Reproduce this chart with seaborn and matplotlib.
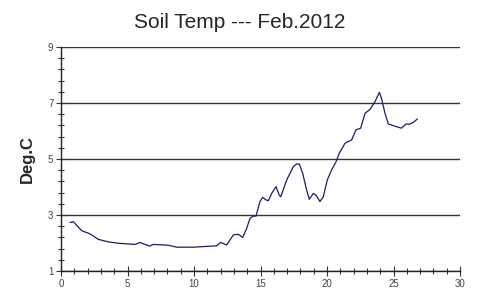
import matplotlib
matplotlib.use("Agg")
import matplotlib.pyplot as plt
from matplotlib.ticker import MultipleLocator, FixedLocator
import seaborn as sns
import pandas as pd

day = [0.68, 0.93, 1.55, 2.05, 2.3, 2.8, 3.56, 4.31, 5.56, 5.94, 6.32, 6.69, 6.94, 8.07,
       8.7, 9.95, 11.0, 11.7, 12.0, 12.46, 12.96, 13.33, 13.66, 13.96, 14.21, 14.46, 14.66,
       14.96, 15.16, 15.41, 15.59, 15.84, 16.17, 16.41, 16.52, 16.97, 17.47, 17.72, 17.92,
       18.17, 18.47, 18.67, 18.97, 19.17, 19.47, 19.72, 20.02, 20.35, 20.68, 20.92, 21.35,
       21.85, 22.18, 22.53, 22.86, 23.23, 23.61, 23.94, 24.1, 24.36, 24.61, 24.98, 25.6,
       25.94, 26.2, 26.5, 26.8]
temp = [2.73, 2.76, 2.44, 2.35, 2.29, 2.13, 2.04, 1.99, 1.95, 2.02, 1.95, 1.89, 1.95, 1.92,
        1.85, 1.85, 1.88, 1.90, 2.02, 1.93, 2.29, 2.31, 2.20, 2.52, 2.88, 2.96, 2.96,
        3.48, 3.63, 3.54, 3.51, 3.77, 4.01, 3.71, 3.65, 4.25, 4.73, 4.82, 4.82,
        4.49, 3.89, 3.56, 3.77, 3.71, 3.48, 3.65, 4.25, 4.61, 4.90, 5.20, 5.56,
        5.68, 6.04, 6.10, 6.63, 6.77, 7.05, 7.38, 7.16, 6.63, 6.25, 6.19, 6.10,
        6.25, 6.24, 6.31, 6.43]

df = pd.DataFrame({"day": day, "temp": temp})

sns.set_style("ticks")
plt.rcParams['font.family'] = ['Liberation Sans', 'DejaVu Sans']

fig = plt.figure(figsize=(5, 3.05), dpi=100)
ax = fig.add_axes([0.122, 0.1115, 0.798, 0.7345])
sns.lineplot(data=df, x="day", y="temp", ax=ax, color="#1c1c6e", linewidth=0.9)

ax.set_xlim(0, 30)
ax.set_ylim(1, 9)
ax.xaxis.set_major_locator(MultipleLocator(5))
ax.xaxis.set_minor_locator(MultipleLocator(1))
ax.yaxis.set_major_locator(FixedLocator([1, 3, 5, 7, 9]))
ax.yaxis.set_minor_locator(FixedLocator([1.4, 1.8, 2.2, 2.6, 3.4, 3.8, 4.2, 4.6,
                                         5.4, 5.8, 6.2, 6.6, 7.4, 7.8, 8.2, 8.6]))
ax.tick_params(which="both", direction="inout", colors="#333333", labelsize=7,
               labelcolor="#444444", width=0.8, bottom=True, left=True)
ax.tick_params(which="major", length=7, pad=2)
ax.tick_params(which="minor", length=5)
ax.yaxis.grid(True, which="major", color="#333333", linewidth=1)
for s in ["top", "right"]:
    ax.spines[s].set_visible(False)
for s in ["left", "bottom"]:
    ax.spines[s].set_color("#222222")
    ax.spines[s].set_linewidth(1)
ax.set_xlabel("")
ax.set_ylabel("Deg.C", fontsize=12, fontweight="bold", labelpad=9)
fig.text(0.48, 0.925, "Soil Temp --- Feb.2012", ha="center", va="center", fontsize=15)

fig.savefig("out.png", dpi=100)
